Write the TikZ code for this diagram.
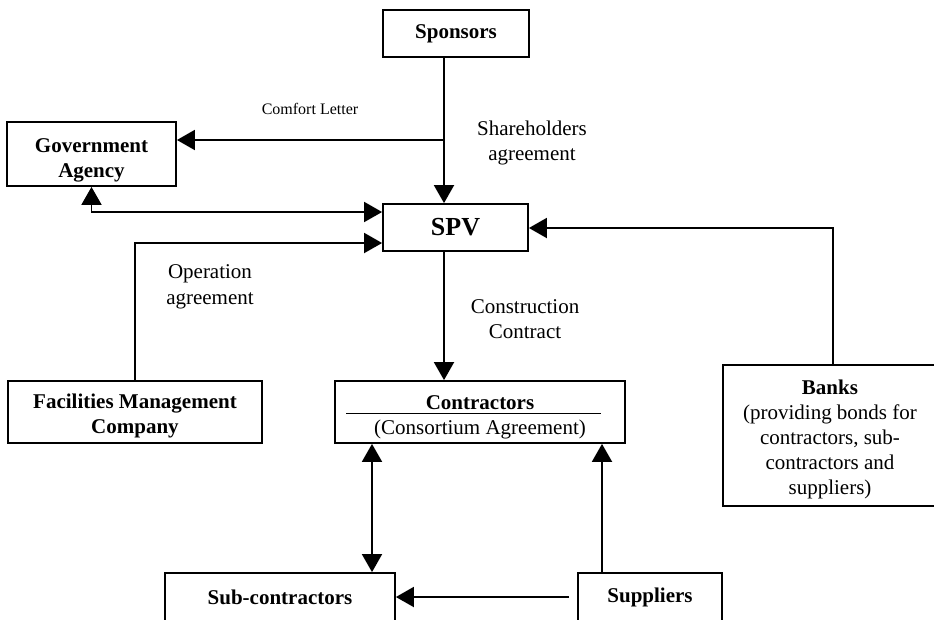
\documentclass[tikz,border=0pt]{standalone}
\usepackage{fontspec}
\setmainfont{Liberation Serif}
\usetikzlibrary{arrows.meta,calc}
\newcommand{\upstrut}[1]{\rule{0pt}{#1}}
\begin{document}
\begin{tikzpicture}[x=1pt,y=-1pt,
  box/.style={draw,line width=1.8pt,inner sep=0pt,align=center,font=\fontsize{21}{25}\selectfont\bfseries},
  lbl/.style={align=center,inner sep=0pt,font=\fontsize{21}{25.5}\selectfont},
  conn/.style={line width=1.9pt},
  tri/.tip={Triangle[length=18pt,width=20pt]}]
\useasboundingbox (0,0) rectangle (934,619);
\clip (0,0) rectangle (934,619);
\fill[white] (0,0) rectangle (934,619);
% boxes
\node[box,minimum width=146pt,minimum height=47pt] (sp) at (456,33.5) {Sponsors};
\node[box,minimum width=169pt,minimum height=64pt] (ga) at (91.5,154) {\upstrut{27pt}Government\\Agency};
\node[box,minimum width=145pt,minimum height=47pt,font=\fontsize{26}{30}\selectfont\bfseries] (spv) at (455.5,227.5) {SPV};
\node[box,minimum width=254pt,minimum height=62pt] (fm) at (135,412) {\upstrut{22pt}Facilities Management\\Company};
\node[box,minimum width=290pt,minimum height=62pt] (ct) at (480,412) {\upstrut{24pt}Contractors\\\mdseries (Consortium Agreement)};
\node[box,minimum width=214pt,minimum height=141pt] (bk) at (830,435.5) {\upstrut{23pt}Banks\\\mdseries (providing bonds for\\\mdseries contractors, sub-\\\mdseries contractors and\\\mdseries suppliers)};
\node[box,minimum width=230pt,minimum height=48pt] (sc) at (280,597) {Sub-contractors};
\node[box,minimum width=144pt,minimum height=48pt] (su) at (650,597) {Suppliers};
% underline inside contractors box
\draw[line width=1.5pt] ($(ct.west)+(12,1.5)$) -- ++(255,0);
% helper coordinates
\coordinate (xs) at (444,0);
\coordinate (jn) at (444,140);
\coordinate (y1) at (0,212);
\coordinate (y2) at (0,243);
\coordinate (y3) at (0,228);
\coordinate (xb) at (833,0);
\coordinate (xc) at (372,0);
\coordinate (xp) at (602,0);
% connectors
\draw[conn,-tri] (sp.south -| xs) -- (spv.north -| xs);
\draw[conn,-tri] (jn) -- (ga.east |- jn);
\draw[conn,tri-tri] (ga.south) |- (spv.west |- y1);
\draw[conn,-tri] (fm.north) |- (spv.west |- y2);
\draw[conn,-tri] (spv.south -| xs) -- (ct.north -| xs);
\draw[conn,-tri] (bk.north -| xb) |- (spv.east |- y3);
\draw[conn,tri-tri] (ct.south -| xc) -- (sc.north -| xc);
\draw[conn,-tri] (su.north -| xp) -- (ct.south -| xp);
\draw[conn,-tri,shorten <=8pt] (su.west) -- (sc.east);
% labels
\node[lbl,font=\fontsize{16}{19}\selectfont] (cl) at (310,108.5) {Comfort Letter};
\node[lbl] (sh) at (532,143) {Shareholders\\agreement};
\node[lbl] (op) at (210,287) {Operation\\agreement};
\node[lbl] (cc) at (525,319) {Construction\\Contract};
\end{tikzpicture}
\end{document}
